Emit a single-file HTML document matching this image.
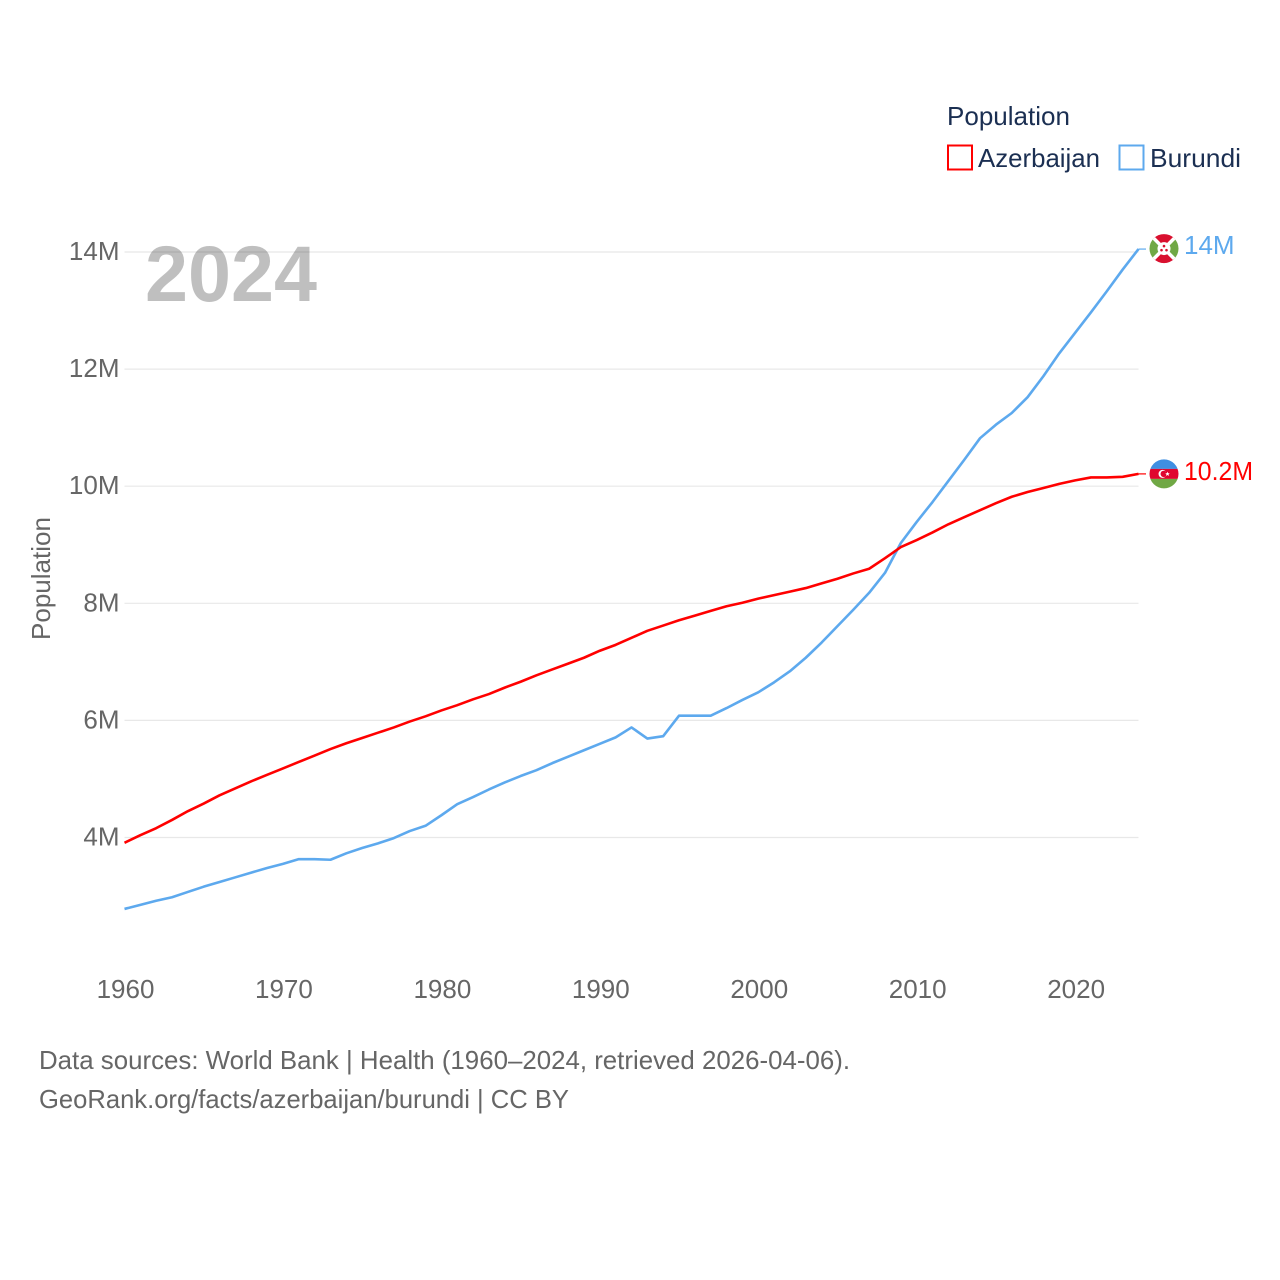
<!DOCTYPE html>
<html lang="en">
<head>
<meta charset="utf-8">
<title>Azerbaijan and Burundi population</title>
<style>
html,body{margin:0;padding:0;background:#fff;width:1280px;height:1280px;overflow:hidden}
svg{display:block}
text{font-family:"Liberation Sans",sans-serif}
</style>
</head>
<body>
<svg id="chart" xmlns="http://www.w3.org/2000/svg" width="1280" height="1280" viewBox="0 0 1280 1280">
  <defs>
    <clipPath id="flag-clip"><circle cx="0" cy="0" r="14.5"/></clipPath>
  </defs>
  <rect width="1280" height="1280" fill="#ffffff"/>
  <g id="grid"></g>
  <g id="y-ticks"></g>
  <g id="x-ticks"></g>
  <text x="145" y="301" font-size="79" font-weight="700" fill="#000000" fill-opacity="0.25" textLength="172" lengthAdjust="spacingAndGlyphs">2024</text>
  <text transform="translate(50,640) rotate(-90)" font-size="26" fill="#666666" textLength="123" lengthAdjust="spacingAndGlyphs">Population</text>
  <g id="series"></g>
  <g id="flag-burundi" clip-path="url(#flag-clip)">
    <rect x="-15" y="-15" width="30" height="30" fill="#ffffff"/>
    <polygon points="-15,-15 15,-15 0,0" fill="#d9102f"/>
    <polygon points="-15,15 15,15 0,0" fill="#d9102f"/>
    <polygon points="-15,-15 -15,15 0,0" fill="#70a845"/>
    <polygon points="15,-15 15,15 0,0" fill="#70a845"/>
    <line x1="-15" y1="-15" x2="15" y2="15" stroke="#ffffff" stroke-width="3.5"/>
    <line x1="15" y1="-15" x2="-15" y2="15" stroke="#ffffff" stroke-width="3.5"/>
    <circle r="6.5" fill="#ffffff"/>
    <circle cx="0" cy="-2.5" r="1.3" fill="#d9102f"/>
    <circle cx="-2.5" cy="1.6" r="1.3" fill="#d9102f"/>
    <circle cx="2.5" cy="1.6" r="1.3" fill="#d9102f"/>
  </g>
  <g id="flag-azerbaijan" clip-path="url(#flag-clip)">
    <rect x="-15" y="-15" width="30" height="10" fill="#3f8fe2"/>
    <rect x="-15" y="-5" width="30" height="10" fill="#e0062f"/>
    <rect x="-15" y="5" width="30" height="10" fill="#70a845"/>
    <circle cx="-1.5" cy="0" r="4" fill="#ffffff"/>
    <circle cx="-0.3" cy="0" r="3.2" fill="#e0062f"/>
    <polygon points="3.5,-2.2 4.2,-0.7 5.8,-0.7 4.6,0.4 5,2 3.5,1.1 2,2 2.4,0.4 1.2,-0.7 2.8,-0.7" fill="#ffffff"/>
  </g>
  <text id="label-burundi" x="1184" font-size="26" fill="#5da9ee">14M</text>
  <text id="label-azerbaijan" x="1184" font-size="26" fill="#ff0000" textLength="69" lengthAdjust="spacingAndGlyphs">10.2M</text>
  <g>
    <text x="947" y="125" font-size="26" fill="#1b2f52" textLength="123" lengthAdjust="spacingAndGlyphs">Population</text>
    <rect x="948" y="145.500" width="24" height="24" fill="none" stroke="#ff0000" stroke-width="2"/>
    <text x="978" y="167" font-size="26" fill="#1b2f52" textLength="122" lengthAdjust="spacingAndGlyphs">Azerbaijan</text>
    <rect x="1119.500" y="145.500" width="24" height="24" fill="none" stroke="#5da9ee" stroke-width="2"/>
    <text x="1150" y="167" font-size="26" fill="#1b2f52" textLength="91" lengthAdjust="spacingAndGlyphs">Burundi</text>
  </g>
  <text x="39" y="1069" font-size="26" fill="#666666" textLength="811" lengthAdjust="spacingAndGlyphs">Data sources: World Bank | Health (1960–2024, retrieved 2026-04-06).</text>
  <text x="39" y="1108" font-size="26" fill="#666666" textLength="530" lengthAdjust="spacingAndGlyphs">GeoRank.org/facts/azerbaijan/burundi | CC BY</text>
</svg>
<script>
const years = [1960,1961,1962,1963,1964,1965,1966,1967,1968,1969,1970,1971,1972,1973,1974,1975,1976,1977,1978,1979,1980,1981,1982,1983,1984,1985,1986,1987,1988,1989,1990,1991,1992,1993,1994,1995,1996,1997,1998,1999,2000,2001,2002,2003,2004,2005,2006,2007,2008,2009,2010,2011,2012,2013,2014,2015,2016,2017,2018,2019,2020,2021,2022,2023,2024];
const azerbaijan = [3.91,4.04,4.16,4.30,4.45,4.58,4.72,4.84,4.96,5.07,5.18,5.29,5.40,5.51,5.61,5.70,5.79,5.88,5.98,6.07,6.17,6.26,6.36,6.45,6.56,6.66,6.77,6.87,6.97,7.07,7.19,7.29,7.41,7.53,7.62,7.71,7.79,7.87,7.95,8.01,8.08,8.14,8.20,8.26,8.34,8.42,8.51,8.59,8.77,8.96,9.08,9.21,9.35,9.47,9.59,9.71,9.82,9.90,9.97,10.04,10.10,10.15,10.15,10.16,10.21];
const burundi = [2.78,2.85,2.92,2.98,3.07,3.16,3.24,3.32,3.40,3.48,3.55,3.63,3.63,3.62,3.73,3.82,3.90,3.99,4.11,4.20,4.38,4.57,4.69,4.82,4.94,5.05,5.15,5.27,5.38,5.49,5.60,5.71,5.88,5.69,5.73,6.08,6.08,6.08,6.21,6.35,6.48,6.65,6.84,7.07,7.33,7.61,7.89,8.18,8.52,9.03,9.39,9.73,10.09,10.45,10.82,11.05,11.25,11.52,11.88,12.27,12.62,12.97,13.33,13.70,14.05];
const yTickValues = [4,6,8,10,12,14];
const xTickValues = [1960,1970,1980,1990,2000,2010,2020];

const NS = 'http://www.w3.org/2000/svg';
const X0 = 124.5, X1 = 1138.5, Y4 = 837.5, Y14 = 252;
function xScale(year){ return X0 + (year - 1960) * (X1 - X0) / (2024 - 1960); }
function yScale(value){ return Y4 - (value - 4) * (Y4 - Y14) / 10; }
function make(tag, parent, attrs){
  const el = document.createElementNS(NS, tag);
  for (const k in attrs) el.setAttribute(k, attrs[k]);
  parent.appendChild(el);
  return el;
}

const grid = document.getElementById('grid');
const yTicks = document.getElementById('y-ticks');
yTickValues.forEach(function(v){
  const line = make('line', grid, {x1: X0, x2: X1, y1: yScale(v), y2: yScale(v), stroke: '#e8e8e8', 'stroke-width': 1.2});
  
  
  const label = make('text', yTicks, {x: 119.5, y: yScale(v) + 8, 'text-anchor': 'end', 'font-size': 26, fill: '#666666'});
  label.textContent = v + 'M';
  
  
});

const xTicks = document.getElementById('x-ticks');
xTickValues.forEach(function(year){
  const label = make('text', xTicks, {x: xScale(year) + 1, y: 998, 'text-anchor': 'middle', 'font-size': 26, fill: '#666666'});
  label.textContent = String(year);
  
  
});

function drawSeries(values, color, name){
  const parent = document.getElementById('series');
  const pts = values.map(function(v, i){ return xScale(years[i]).toFixed(2) + ',' + yScale(v).toFixed(2); });
  const line = make('polyline', parent, {points: pts.join(' '), fill: 'none', stroke: color, 'stroke-width': 2.6, 'stroke-linejoin': 'round'});
  
  
  const last = values[values.length - 1];
  const connector = make('line', parent, {x1: X1, x2: 1146, y1: yScale(last), y2: yScale(last), stroke: color, 'stroke-width': 1.2});
  
  
}
drawSeries(burundi, '#5da9ee', 'burundi-line');
drawSeries(azerbaijan, '#ff0000', 'azerbaijan-line');

const lastB = yScale(burundi[burundi.length - 1]);
const lastA = yScale(azerbaijan[azerbaijan.length - 1]);
document.getElementById('flag-burundi').setAttribute('transform', 'translate(1164,' + (lastB - 0.5) + ')');
document.getElementById('flag-azerbaijan').setAttribute('transform', 'translate(1164,' + (lastA) + ')');
document.getElementById('label-burundi').setAttribute('y', lastB + 5);
document.getElementById('label-azerbaijan').setAttribute('y', lastA + 6);
</script>
</body>
</html>
